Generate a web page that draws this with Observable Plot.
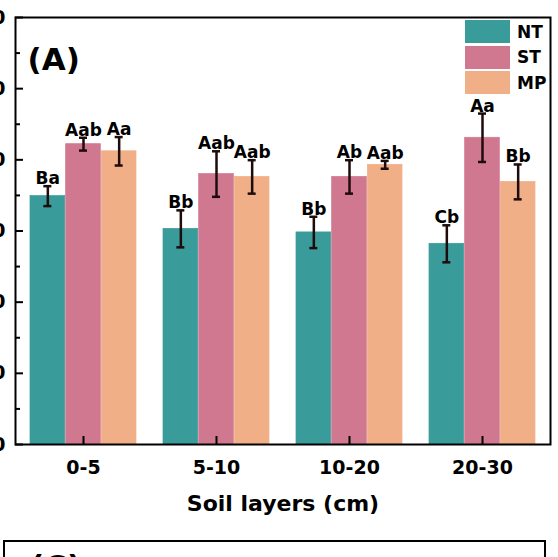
<!DOCTYPE html>
<html>
<head>
<meta charset="utf-8">
<script src="https://cdn.jsdelivr.net/npm/d3@7"></script>
<script src="https://cdn.jsdelivr.net/npm/@observablehq/plot@0.6"></script>
<style>
  html, body { margin: 0; padding: 0; background: #fff; }
  #wrap { position: relative; width: 558px; height: 557px; overflow: hidden; background: #fff;
          font-family: "DejaVu Sans", sans-serif; font-weight: bold; }
  #chart { position: absolute; left: -40px; top: 0; }
  #legend { position: absolute; left: 465px; top: 20px; }
  .row { display: flex; align-items: center; height: 23px; margin-bottom: 2.5px; }
  .sw { width: 45px; height: 23px; margin-right: 7px; }
  .lab { font-size: 17px; color: #000; }
  #panelC { position: absolute; left: 3px; top: 540px; width: 543px; height: 60px;
            border: 2px solid #000; box-sizing: border-box; }
  #panelC span { position: absolute; left: 25px; top: 6px; font-size: 31px; }
</style>
</head>
<body>
<div id="wrap">
  <div id="chart"></div>
  <div id="legend"></div>
  <div id="panelC"><span>(C)</span></div>
</div>
<script>
const layers = ["0-5", "5-10", "10-20", "20-30"];
const treatments = ["NT", "ST", "MP"];
const colors = ["#3a9c9a", "#d17891", "#f1af88"];
const ntMean = [34.9, 30.3, 29.8, 28.2];
const ntErr  = [1.4, 2.6, 2.2, 2.6];
const stMean = [42.2, 38.0, 37.6, 43.1];
const stErr  = [0.9, 3.2, 2.35, 3.4];
const mpMean = [41.2, 37.6, 39.3, 36.9];
const mpErr  = [2.0, 2.35, 0.55, 2.45];
const ntLetters = ["Ba", "Bb", "Bb", "Cb"];
const stLetters = ["Aab", "Aab", "Ab", "Aa"];
const mpLetters = ["Aa", "Aab", "Aab", "Bb"];
const yTicks = [0, 10, 20, 30, 40, 50, 60];
const yMinor = [5, 15, 25, 35, 45, 55];
const xTitle = "Soil layers (cm)";
const panelLabel = "(A)";

const means = [ntMean, stMean, mpMean];
const errs = [ntErr, stErr, mpErr];
const letters = [ntLetters, stLetters, mpLetters];

const rows = treatments.map((t, i) => layers.map((l, j) => ({
  layer: l, t, mean: means[i][j], err: errs[i][j], letter: letters[i][j],
  lo: means[i][j] - errs[i][j], hi: means[i][j] + errs[i][j]
})));

const W = 598, H = 534, mL = 55, mR = 8, mT = 17, mB = 90;
const fw = W - mL - mR;
const fh = H - mT - mB;
const pIn = 0.2, pOut = 0.1;
const step = fw / (layers.length - pIn + 2 * pOut);
const bw = step * (1 - pIn);
const sub = bw / 3;
const cap = 4.5;
const errColor = "#1e0b0b";

const marks = [];
treatments.forEach((t, i) => {
  const data = rows[i];
  const c = i * sub + sub / 2;
  marks.push(Plot.barY(data, {x: "layer", y: "mean", fill: colors[i], stroke: colors[i], strokeWidth: 0.7,
    insetLeft: i * sub, insetRight: (2 - i) * sub}));
});
treatments.forEach((t, i) => {
  const data = rows[i];
  const c = i * sub + sub / 2;
  marks.push(Plot.ruleX(data, {x: "layer", y1: "lo", y2: "hi", dx: (i - 1) * sub,
    stroke: errColor, strokeWidth: 2.5}));
  marks.push(Plot.tickY(data, {x: "layer", y: "lo", stroke: errColor, strokeWidth: 2.5,
    insetLeft: c - cap, insetRight: bw - c - cap}));
  marks.push(Plot.tickY(data, {x: "layer", y: "hi", stroke: errColor, strokeWidth: 2.5,
    insetLeft: c - cap, insetRight: bw - c - cap}));
  marks.push(Plot.text(data, {x: "layer", y: "hi", text: "letter", dx: (i - 1) * sub, dy: -2,
    lineAnchor: "bottom", fontSize: 17, fontWeight: "bold", fill: "#000"}));
});

const chart = Plot.plot({
  width: W, height: H,
  marginLeft: mL, marginRight: mR, marginTop: mT, marginBottom: mB,
  style: {fontFamily: "DejaVu Sans, sans-serif", fontWeight: "bold", fontSize: "19px", color: "#000", background: "transparent"},
  x: {domain: layers, paddingInner: pIn, paddingOuter: pOut, axis: null},
  y: {domain: [0, 60], axis: null},
  marks: [
    ...marks,
    Plot.axisY({ticks: yTicks, tickSize: 0, tickPadding: 10, label: null, fontSize: 19}),
    Plot.axisX({tickSize: 0, tickPadding: 16, label: null, fontSize: 19}),
    Plot.ruleY(yTicks, {y: d => d, insetRight: fw - 8, stroke: "#000", strokeWidth: 2}),
    Plot.ruleY(yMinor, {y: d => d, insetRight: fw - 5, stroke: "#000", strokeWidth: 2}),
    Plot.ruleX(layers, {x: d => d, insetTop: fh - 8, stroke: "#000", strokeWidth: 2}),
    Plot.frame({stroke: "#000", strokeWidth: 2}),
    Plot.text([panelLabel], {frameAnchor: "top-left", dx: 12, dy: 30, textAnchor: "start",
      fontSize: 31, fontWeight: "bold", fill: "#000"}),
    Plot.text([xTitle], {frameAnchor: "bottom", dy: 66, fontSize: 22, fontWeight: "bold", fill: "#000"})
  ]
});
document.getElementById("chart").appendChild(chart);

const legend = document.getElementById("legend");
treatments.forEach((t, i) => {
  const r = document.createElement("div");
  r.className = "row";
  r.innerHTML = `<div class="sw" style="background:${colors[i]}"></div><span class="lab">${t}</span>`;
  legend.appendChild(r);
});
</script>
</body>
</html>
